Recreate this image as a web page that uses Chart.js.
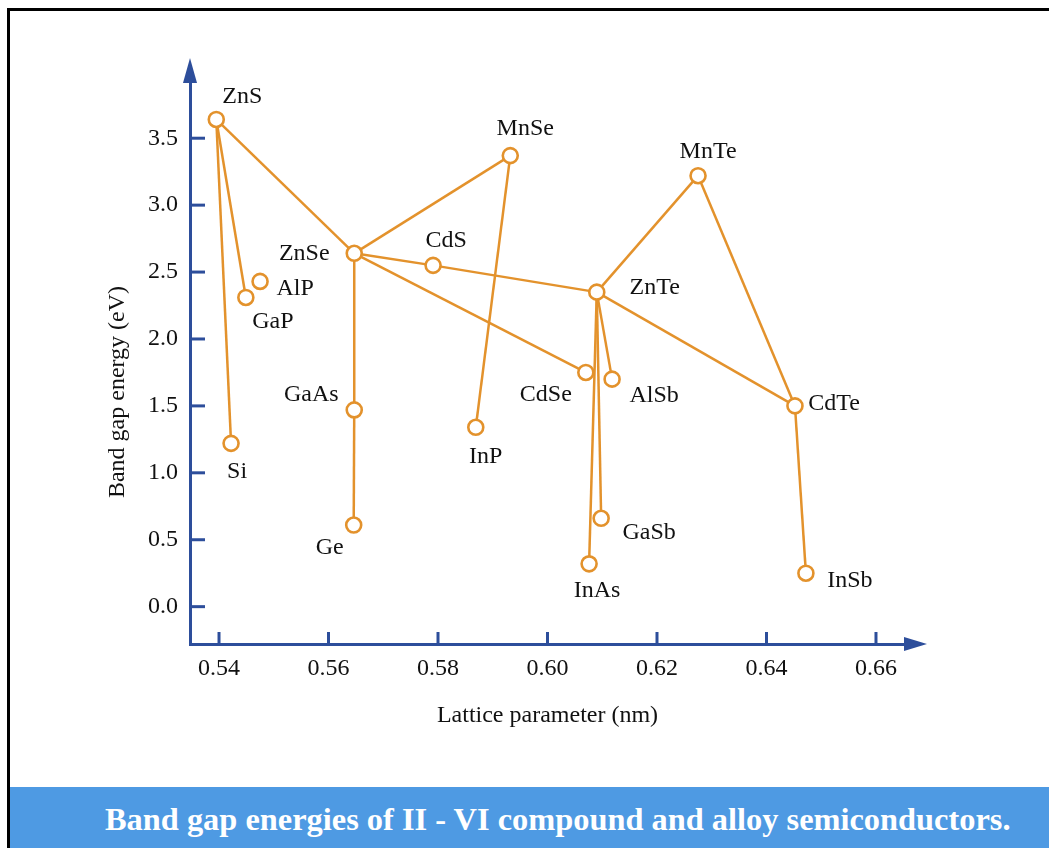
<!DOCTYPE html>
<html>
<head>
<meta charset="utf-8">
<script src="https://cdn.jsdelivr.net/npm/chart.js@4"></script>
<style>
  html, body { margin: 0; padding: 0; background: #fff; }
  body { width: 1049px; height: 848px; position: relative; overflow: hidden; }
  #frame { position: absolute; left: 7px; top: 8px; right: -10px; bottom: -10px;
           border-left: 3px solid #000; border-top: 3px solid #000; z-index: 2; pointer-events: none; }
  #wrap { position: absolute; left: 0; top: 0; width: 1049px; height: 787px; }
  #caption { position: absolute; left: 10px; right: 0; top: 787px; bottom: 0; background: #4e9ae3;
             color: #fff; font: bold 32.4px 'Liberation Serif', 'Times New Roman', serif;
             line-height: 64px; padding-left: 95px; white-space: nowrap; }
</style>
</head>
<body>
<div id="wrap"><canvas id="myChart"></canvas></div>
<div id="caption">Band gap energies of II - VI compound and alloy semiconductors.</div>
<div id="frame"></div>
<script>
// data
var compounds = ['ZnS', 'Si', 'GaP', 'AlP', 'ZnSe', 'GaAs', 'Ge', 'CdS', 'MnSe', 'InP',
                 'ZnTe', 'CdSe', 'AlSb', 'InAs', 'GaSb', 'MnTe', 'CdTe', 'InSb'];
var latticeNm = [0.5395, 0.5422, 0.5449, 0.5475, 0.5647, 0.5647, 0.5646, 0.5791, 0.5932, 0.5869,
                 0.6090, 0.6070, 0.6118, 0.6076, 0.6098, 0.6275, 0.6452, 0.6472];
var bandGapEv = [3.64, 1.22, 2.31, 2.43, 2.64, 1.47, 0.61, 2.55, 3.37, 1.34,
                 2.35, 1.75, 1.70, 0.32, 0.66, 3.22, 1.50, 0.25];
// which compounds are joined by a line
var links = [
    ['ZnS', 'Si'], ['ZnS', 'GaP'], ['ZnS', 'ZnSe'],
    ['ZnSe', 'MnSe'], ['MnSe', 'InP'],
    ['ZnSe', 'GaAs'], ['GaAs', 'Ge'],
    ['ZnSe', 'CdS'], ['CdS', 'ZnTe'], ['ZnSe', 'CdSe'],
    ['ZnTe', 'InAs'], ['ZnTe', 'GaSb'], ['ZnTe', 'AlSb'],
    ['ZnTe', 'MnTe'], ['MnTe', 'CdTe'], ['ZnTe', 'CdTe'], ['CdTe', 'InSb']
];
var xTicks = [0.54, 0.56, 0.58, 0.60, 0.62, 0.64, 0.66];
var yTicks = [0.0, 0.5, 1.0, 1.5, 2.0, 2.5, 3.0, 3.5];

// label placement relative to each point (px: centre x, baseline y)
var labelOffsets = {
    ZnS: [26, -16], Si: [6, 35], GaP: [27, 31], AlP: [35, 14], ZnSe: [-50, 7],
    GaAs: [-43, -9], Ge: [-24, 29], CdS: [13, -18], MnSe: [15, -21], InP: [10, 36],
    ZnTe: [58, 2], CdSe: [-40, 29], AlSb: [42, 23], InAs: [8, 33], GaSb: [48, 21],
    MnTe: [10, -18], CdTe: [39, 4], InSb: [44, 14]
};

var orange = '#e3922c';
var axisBlue = '#2d4e9b';
var serif = "'Liberation Serif', 'Times New Roman', serif";

var points = compounds.map(function (name, i) {
    return { x: latticeNm[i], y: bandGapEv[i], name: name };
});

function pointOf(name) {
    return points[compounds.indexOf(name)];
}

var datasets = links.map(function (pair) {
    return {
        type: 'line',
        data: [pointOf(pair[0]), pointOf(pair[1])],
        borderColor: orange,
        borderWidth: 2.5,
        pointRadius: 0,
        fill: false,
        order: 2
    };
});
datasets.push({
    type: 'scatter',
    data: points,
    pointRadius: 7.5,
    pointBorderWidth: 2.6,
    pointBorderColor: orange,
    pointBackgroundColor: '#fff',
    order: 1
});

// inner tick marks, arrow heads, titles and point labels
var decorations = {
    id: 'decorations',
    afterDraw: function (chart) {
        var ctx = chart.ctx;
        var xs = chart.scales.x, ys = chart.scales.y;
        var area = chart.chartArea;
        ctx.save();
        ctx.strokeStyle = axisBlue;
        ctx.fillStyle = axisBlue;
        ctx.lineWidth = 3;
        xTicks.forEach(function (v) {
            var px = xs.getPixelForValue(v);
            ctx.beginPath();
            ctx.moveTo(px, area.bottom);
            ctx.lineTo(px, area.bottom - 12);
            ctx.stroke();
        });
        yTicks.forEach(function (v) {
            var py = ys.getPixelForValue(v);
            ctx.beginPath();
            ctx.moveTo(area.left, py);
            ctx.lineTo(area.left + 15, py);
            ctx.stroke();
        });
        // arrow on y axis
        ctx.beginPath();
        ctx.moveTo(area.left - 7, area.top + 1);
        ctx.lineTo(area.left, area.top - 24);
        ctx.lineTo(area.left + 7, area.top + 1);
        ctx.closePath();
        ctx.fill();
        // arrow on x axis
        ctx.beginPath();
        ctx.moveTo(area.right - 1, area.bottom - 7);
        ctx.lineTo(area.right + 22, area.bottom);
        ctx.lineTo(area.right - 1, area.bottom + 7);
        ctx.closePath();
        ctx.fill();

        ctx.fillStyle = '#111';
        ctx.font = '24px ' + serif;
        ctx.textAlign = 'center';
        ctx.textBaseline = 'middle';
        ctx.fillText('Lattice parameter (nm)', (area.left + area.right) / 2, 716);
        ctx.save();
        ctx.translate(118, 392);
        ctx.rotate(-Math.PI / 2);
        ctx.fillText('Band gap energy (eV)', 0, 0);
        ctx.restore();

        ctx.textBaseline = 'alphabetic';
        points.forEach(function (p) {
            var off = labelOffsets[p.name];
            ctx.fillText(p.name, xs.getPixelForValue(p.x) + off[0], ys.getPixelForValue(p.y) + off[1]);
        });
        ctx.restore();
    }
};

var ctx = document.getElementById('myChart').getContext('2d');
var myChart = new Chart(ctx, {
    type: 'scatter',
    data: { datasets: datasets },
    options: {
        responsive: true,
        maintainAspectRatio: false,
        animation: false,
        devicePixelRatio: 1,
        layout: { padding: { left: 0, top: 82, right: 144, bottom: 0 } },
        plugins: { legend: { display: false }, tooltip: { enabled: false } },
        scales: {
            x: {
                type: 'linear',
                min: 0.5347,
                max: 0.6653,
                afterFit: function (scale) { scale.height = 143; },
                afterBuildTicks: function (scale) {
                    scale.ticks = xTicks.map(function (v) { return { value: v }; });
                },
                grid: { display: false, drawTicks: false },
                border: { display: true, color: axisBlue, width: 3 },
                ticks: {
                    padding: 10,
                    color: '#111',
                    font: { family: serif, size: 24 },
                    callback: function (v) { return v.toFixed(2); }
                }
            },
            y: {
                type: 'linear',
                min: -0.279,
                max: 3.92,
                afterFit: function (scale) { scale.width = 190; },
                afterBuildTicks: function (scale) {
                    scale.ticks = yTicks.map(function (v) { return { value: v }; });
                },
                grid: { display: false, drawTicks: false },
                border: { display: true, color: axisBlue, width: 3 },
                ticks: {
                    padding: 12,
                    color: '#111',
                    font: { family: serif, size: 24 },
                    callback: function (v) { return v.toFixed(1); }
                }
            }
        }
    },
    plugins: [decorations]
});
</script>
</body>
</html>
